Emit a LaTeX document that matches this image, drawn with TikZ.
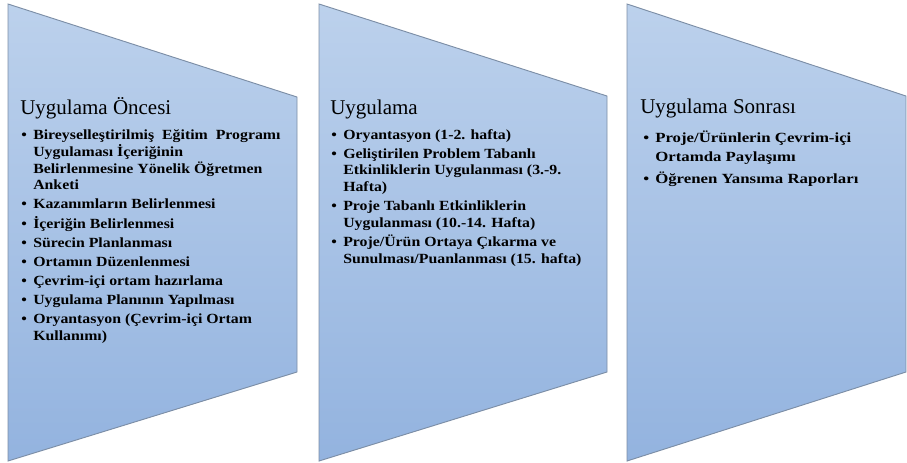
\documentclass[tikz,border=0pt]{standalone}
\usepackage{fontspec}
\setmainfont{Liberation Serif}
\newfontfamily\itemfont[FakeStretch=1.13]{Liberation Serif}
\newfontfamily\itemwidefont[FakeStretch=1.2]{Liberation Serif}
\usepackage{xcolor}
\usetikzlibrary{positioning}

\definecolor{panetop}{HTML}{BCD1EC}
\definecolor{panebot}{HTML}{93B3DF}
\definecolor{paneedge}{HTML}{7C8EA6}

\newcommand{\itm}{\makebox[9pt][l]{\textbullet}}
\newcommand{\cnt}{\hspace*{9pt}}
\newcommand{\gap}{\\[1.8pt]}

\begin{document}
\begin{tikzpicture}[
  x=0.75pt, y=-0.75pt,
  pane/.style={draw=paneedge, line width=0.7pt, top color=panetop, bottom color=panebot},
  phase/.style={anchor=base west, inner sep=0pt, font=\fontsize{15.75}{18}\selectfont},
  items/.style={anchor=base west, inner sep=0pt, align=left, font=\itemfont\bfseries\fontsize{10.5}{12.5}\selectfont}
]
\useasboundingbox (0,0) rectangle (907,462);

% the three stages
\shade[pane] (8,4) -- (297,97) -- (297,372) -- (8,461) -- cycle;
\shade[pane] (319,4) -- (607,96) -- (607,372) -- (319,461) -- cycle;
\shade[pane] (627,4) -- (906,96) -- (906,372) -- (627,461) -- cycle;

\node[phase] (pre) at (20,114) {Uygulama Öncesi};
\node[phase] (app) at (330,114) {Uygulama};
\node[phase] (post) at (640,113) {Uygulama Sonrası};

% lists are placed by the baseline of their last line
\node[items] (preitems) at (21,340) {%
  \itm Bireyselleştirilmiş\ \ Eğitim\ \ Programı\\
  \cnt Uygulaması İçeriğinin\\
  \cnt Belirlenmesine Yönelik Öğretmen\\
  \cnt Anketi\gap
  \itm Kazanımların Belirlenmesi\gap
  \itm İçeriğin Belirlenmesi\gap
  \itm Sürecin Planlanması\gap
  \itm Ortamın Düzenlenmesi\gap
  \itm Çevrim-içi ortam hazırlama\gap
  \itm Uygulama Planının Yapılması\gap
  \itm Oryantasyon (Çevrim-içi Ortam\\
  \cnt Kullanımı)};

\node[items] (appitems) at (331,263) {%
  \itm Oryantasyon (1-2. hafta)\gap
  \itm Geliştirilen Problem Tabanlı\\
  \cnt Etkinliklerin Uygulanması (3.-9.\\
  \cnt Hafta)\gap
  \itm Proje Tabanlı Etkinliklerin\\
  \cnt Uygulanması (10.-14. Hafta)\gap
  \itm Proje/Ürün Ortaya Çıkarma ve\\
  \cnt Sunulması/Puanlanması (15. hafta)};

\node[items, font=\itemwidefont\bfseries\fontsize{10.5}{14.5}\selectfont] (postitems) at (643,183) {%
  \itm Proje/Ürünlerin Çevrim-içi\\
  \cnt Ortamda Paylaşımı\\[1.5pt]
  \itm Öğrenen Yansıma Raporları};
\end{tikzpicture}
\end{document}
